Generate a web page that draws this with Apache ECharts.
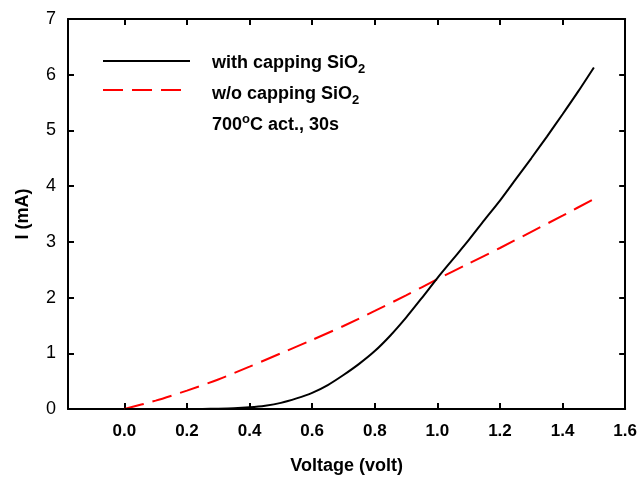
<!DOCTYPE html>
<html><head><meta charset="utf-8">
<script src="https://cdn.jsdelivr.net/npm/echarts@6/dist/echarts.min.js"></script>
<style>html,body{margin:0;padding:0;background:#fff}#c{width:640px;height:480px}</style>
</head><body><div id="c"></div>
<script>
const FONT = 'Liberation Sans, Arial, sans-serif';
const xTickValues = [0, 0.2, 0.4, 0.6, 0.8, 1.0, 1.2, 1.4, 1.6];
const voltWith = [0, 0.1, 0.2, 0.25, 0.3, 0.35, 0.4, 0.45, 0.5, 0.55, 0.6, 0.65, 0.7, 0.75, 0.8, 0.85, 0.9, 0.95, 1.0, 1.05, 1.1, 1.15, 1.2, 1.25, 1.3, 1.35, 1.4, 1.45, 1.5];
const currWith = [0, 0, 0, 0.002, 0.005, 0.012, 0.03, 0.06, 0.11, 0.19, 0.29, 0.43, 0.61, 0.81, 1.04, 1.32, 1.64, 1.99, 2.35, 2.69, 3.03, 3.39, 3.74, 4.12, 4.5, 4.89, 5.29, 5.7, 6.13];
const voltWithout = [0, 0.1, 0.2, 0.3, 0.4, 0.5, 0.6, 0.7, 0.8, 0.9, 1.0, 1.1, 1.2, 1.3, 1.4, 1.5];
const currWithout = [0, 0.15, 0.33, 0.53, 0.76, 1.0, 1.24, 1.49, 1.76, 2.04, 2.33, 2.61, 2.89, 3.18, 3.47, 3.77];

const chart = echarts.init(document.getElementById('c'), null, {renderer: 'canvas'});
const pair = (xs, ys) => xs.map((x, i) => [x, ys[i]]);

const cv = document.createElement('canvas').getContext('2d');
function w(txt, size) { cv.font = 'bold ' + size + 'px ' + FONT; return cv.measureText(txt).width; }

const LX = 212, FS = 18, SS = 13;
const b1 = 68.3, b2 = 99.3, b3 = 130.7;
// place text by its baseline (middle alignment sits ~0.31em above the baseline)
function t(x, base, text, size) {
  return {type: 'text', x: x, y: base - 0.31 * size, style: {text: text, font: 'bold ' + size + 'px ' + FONT, fill: '#000', verticalAlign: 'middle'}};
}
const graphics = [
  {type: 'line', shape: {x1: 103, y1: 61, x2: 190, y2: 61}, style: {stroke: '#000', lineWidth: 2}},
  {type: 'line', shape: {x1: 103, y1: 90, x2: 190, y2: 90}, style: {stroke: '#ff0000', lineWidth: 2, lineDash: [20, 9]}},
  t(LX, b1, 'with capping SiO', FS),
  t(LX + w('with capping SiO', FS), b1 + 5, '2', SS),
  t(LX, b2, 'w/o capping SiO', FS),
  t(LX + w('w/o capping SiO', FS), b2 + 5, '2', SS),
  t(LX, b3, '700', FS),
  t(LX + w('700', FS), b3 - 7.5, 'o', SS),
  t(LX + w('700', FS) + w('o', SS), b3, 'C act., 30s', FS)
];

const tick = {show: true, inside: true, length: 6, lineStyle: {color: '#000', width: 2}};
const axisLine = {show: true, onZero: false, lineStyle: {color: '#000', width: 2}};
const option = {
  animation: false,
  backgroundColor: '#fff',
  grid: {left: 68, right: 14, top: 19, bottom: 70, show: false},
  xAxis: [
    {type: 'value', min: -0.18, max: 1.6, position: 'bottom',
     name: 'Voltage (volt)', nameLocation: 'middle', nameGap: 48,
     nameTextStyle: {fontFamily: FONT, fontWeight: 'bold', fontSize: 18, color: '#000'},
     axisLine: axisLine,
     axisTick: Object.assign({customValues: xTickValues}, tick),
     axisLabel: {show: true, fontFamily: FONT, fontWeight: 'bold', fontSize: 17, color: '#000', margin: 14,
       customValues: xTickValues, formatter: v => v.toFixed(1)},
     splitLine: {show: false}},
    {type: 'value', min: -0.18, max: 1.6, position: 'top',
     axisLine: axisLine,
     axisTick: Object.assign({customValues: xTickValues}, tick),
     axisLabel: {show: false, customValues: xTickValues}, splitLine: {show: false}}
  ],
  yAxis: [
    {type: 'value', min: 0, max: 7, interval: 1, position: 'left',
     name: 'I (mA)', nameLocation: 'middle', nameGap: 36, nameRotate: 90,
     nameTextStyle: {fontFamily: FONT, fontWeight: 'bold', fontSize: 18, color: '#000'},
     axisLine: axisLine,
     axisTick: tick,
     axisLabel: {fontFamily: FONT, fontSize: 18, color: '#000', margin: 12},
     splitLine: {show: false}},
    {type: 'value', min: 0, max: 7, interval: 1, position: 'right',
     axisLine: axisLine,
     axisTick: tick,
     axisLabel: {show: false}, splitLine: {show: false}}
  ],
  series: [
    {name: 'with capping SiO2', type: 'line', xAxisIndex: 0, yAxisIndex: 0, data: pair(voltWith, currWith),
     showSymbol: false, smooth: 0.25, lineStyle: {color: '#000', width: 2}, z: 3},
    {name: 'w/o capping SiO2', type: 'line', xAxisIndex: 0, yAxisIndex: 0, data: pair(voltWithout, currWithout),
     showSymbol: false, smooth: 0.25, lineStyle: {color: '#ff0000', width: 2, type: [20, 9]}, z: 2}
  ],
  graphic: graphics
};
chart.setOption(option);
</script></body></html>
